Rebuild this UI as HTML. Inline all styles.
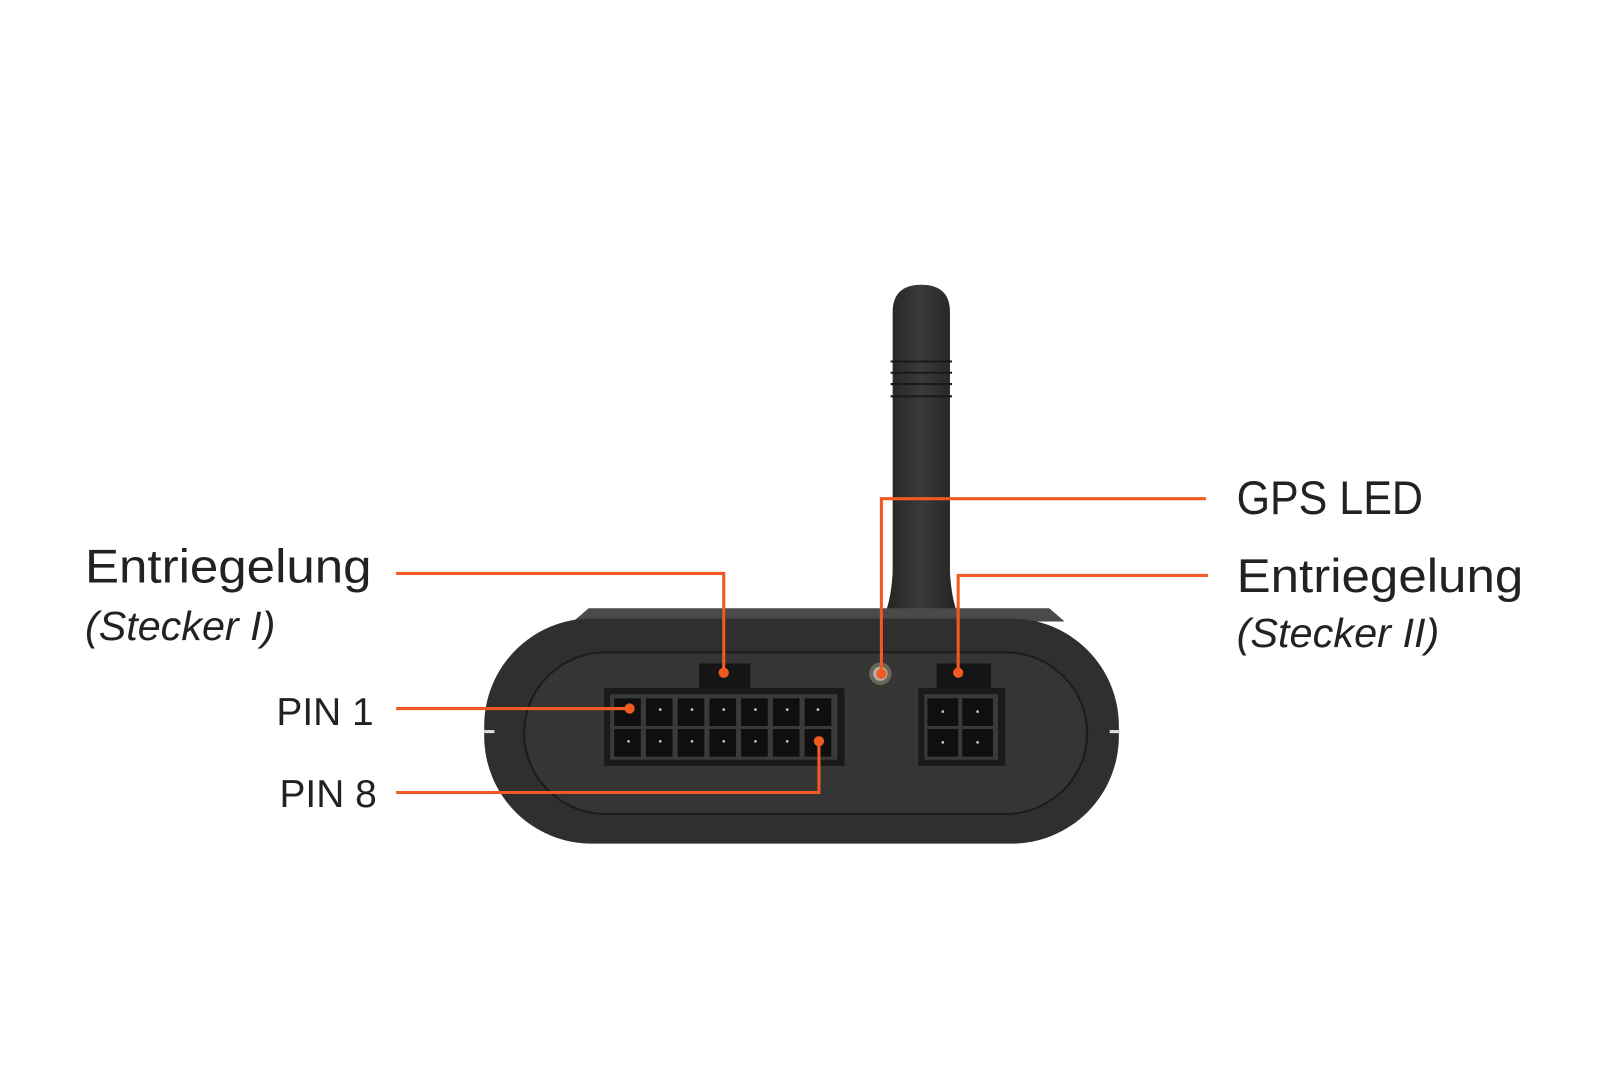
<!DOCTYPE html>
<html><head><meta charset="utf-8"><style>html,body{margin:0;padding:0;background:#fff}svg{display:block}</style></head>
<body>
<svg width="1600" height="1067" viewBox="0 0 1563 1042" xmlns="http://www.w3.org/2000/svg" font-family="Liberation Sans, sans-serif">
<defs>
<linearGradient id="ant" x1="0" x2="1"><stop offset="0" stop-color="#222"/><stop offset="0.5" stop-color="#3a3a3a"/><stop offset="1" stop-color="#222"/></linearGradient>
</defs>
<path d="M872,305 Q872,278 900,278 Q928,278 928,305 L928,560 Q930,590 938,605 L862,605 Q870,590 872,560 Z" fill="url(#ant)"/>
<g stroke="#1a1a1a" stroke-width="2"><line x1="870" y1="353" x2="930" y2="353"/><line x1="870" y1="364" x2="930" y2="364"/><line x1="870" y1="375" x2="930" y2="375"/><line x1="870" y1="387" x2="930" y2="387"/></g>
<path d="M560,607 L575,594 L1025,594 L1040,607 Z" fill="#4a4a4a"/>
<rect x="473" y="604" width="620" height="220" rx="105" ry="105" fill="#2f2f2f"/>
<rect x="512" y="637" width="550" height="158" rx="80" ry="80" fill="#353535" stroke="#1c1c1c" stroke-width="2"/>
<rect x="473" y="713" width="10" height="3" fill="#ddd"/><rect x="1084" y="713" width="10" height="3" fill="#ddd"/>
<rect x="683" y="648" width="50" height="28" fill="#151515"/>
<rect x="590" y="672" width="235" height="76" fill="#1a1a1a"/>
<rect x="596" y="678" width="222" height="64" fill="#3a3a3a"/>
<g fill="#0f0f0f">
<rect x="600" y="682" width="26" height="27"/><rect x="631" y="682" width="26" height="27"/><rect x="662" y="682" width="26" height="27"/><rect x="693" y="682" width="26" height="27"/><rect x="724" y="682" width="26" height="27"/><rect x="755" y="682" width="26" height="27"/><rect x="786" y="682" width="26" height="27"/>
<rect x="600" y="712" width="26" height="27"/><rect x="631" y="712" width="26" height="27"/><rect x="662" y="712" width="26" height="27"/><rect x="693" y="712" width="26" height="27"/><rect x="724" y="712" width="26" height="27"/><rect x="755" y="712" width="26" height="27"/><rect x="786" y="712" width="26" height="27"/>
</g>
<g fill="#ccc"><circle cx="645" cy="693" r="1.3"/><circle cx="676" cy="693" r="1.3"/><circle cx="707" cy="693" r="1.3"/><circle cx="738" cy="693" r="1.3"/><circle cx="769" cy="693" r="1.3"/><circle cx="614" cy="724" r="1.3"/><circle cx="645" cy="724" r="1.3"/><circle cx="676" cy="724" r="1.3"/><circle cx="707" cy="724" r="1.3"/><circle cx="738" cy="724" r="1.3"/><circle cx="769" cy="724" r="1.3"/><circle cx="799" cy="693" r="1.3"/></g>
<rect x="915" y="648" width="53" height="28" fill="#151515"/>
<rect x="897" y="672" width="85" height="76" fill="#1a1a1a"/>
<rect x="903" y="678" width="72" height="64" fill="#3a3a3a"/>
<g fill="#0f0f0f"><rect x="906" y="682" width="30" height="27"/><rect x="940" y="682" width="30" height="27"/><rect x="906" y="712" width="30" height="27"/><rect x="940" y="712" width="30" height="27"/></g>
<g fill="#ccc"><circle cx="921" cy="695" r="1.3"/><circle cx="955" cy="695" r="1.3"/><circle cx="921" cy="725" r="1.3"/><circle cx="955" cy="725" r="1.3"/></g>
<circle cx="860" cy="658" r="11" fill="#6a665c"/><circle cx="860" cy="658" r="7" fill="#b5b0a0"/>
<g stroke="#f15a22" stroke-width="3" fill="none">
<polyline points="387,560 707,560 707,657"/>
<polyline points="387,692 615,692"/>
<polyline points="387,774 800,774 800,724"/>
<polyline points="1178,487 861,487 861,658"/>
<polyline points="1180,562 936,562 936,657"/>
</g>
<g fill="#f15a22"><circle cx="707" cy="657" r="5"/><circle cx="615" cy="692" r="5"/><circle cx="800" cy="724" r="5"/><circle cx="861" cy="658" r="5"/><circle cx="936" cy="657" r="5"/></g>
<g fill="#222">
<text x="83" y="569" font-size="46" textLength="280" lengthAdjust="spacingAndGlyphs">Entriegelung</text>
<text x="83" y="625" font-size="40" font-style="italic" textLength="186" lengthAdjust="spacingAndGlyphs">(Stecker I)</text>
<text x="365" y="708" font-size="38" text-anchor="end">PIN 1</text>
<text x="368" y="788" font-size="38" text-anchor="end">PIN 8</text>
<text x="1208" y="502" font-size="46" textLength="182" lengthAdjust="spacingAndGlyphs">GPS LED</text>
<text x="1208" y="578" font-size="46" textLength="280" lengthAdjust="spacingAndGlyphs">Entriegelung</text>
<text x="1208" y="632" font-size="40" font-style="italic" textLength="198" lengthAdjust="spacingAndGlyphs">(Stecker II)</text>
</g>
</svg>
</body></html>
